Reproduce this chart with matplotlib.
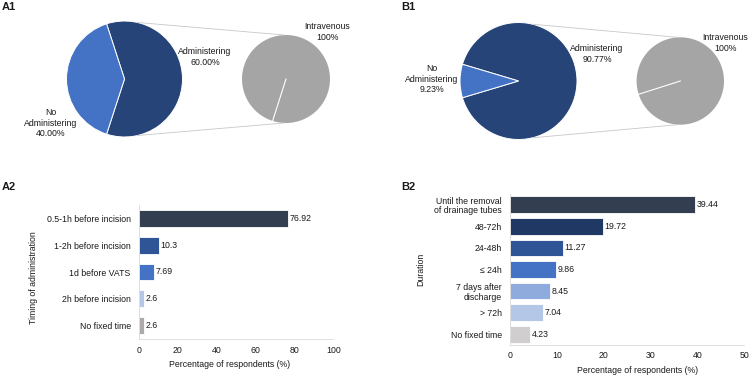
import numpy as np
import matplotlib
matplotlib.use("Agg")
import matplotlib.pyplot as plt

plt.rcParams['font.family'] = ['Liberation Sans', 'DejaVu Sans']

# ---------------- data ----------------
pieA_labels = ["Administering", "No\nAdministering"]
pieA_values = [60.00, 40.00]
pieB_labels = ["Administering", "No\nAdministering"]
pieB_values = [90.77, 9.23]
sub_label = "Intravenous"
sub_value = [100]

a2_categories = ["0.5-1h before incision", "1-2h before incision", "1d before VATS",
                 "2h before incision", "No fixed time"]
a2_values = [76.92, 10.3, 7.69, 2.6, 2.6]
a2_text = ["76.92", "10.3", "7.69", "2.6", "2.6"]

b2_categories = ["Until the removal\nof drainage tubes", "48-72h", "24-48h", "\u2264 24h",
                 "7 days after\ndischarge", "> 72h", "No fixed time"]
b2_values = [39.44, 19.72, 11.27, 9.86, 8.45, 7.04, 4.23]
b2_text = ["39.44", "19.72", "11.27", "9.86", "8.45", "7.04", "4.23"]

# ---------------- styles ----------------
NAVY = "#264478"
BLUE = "#4472C4"
GRAY = "#A5A5A5"
TXT = "#1a1a1a"
FS = 6.3

a2_colors = ["#333F50", "#2F5597", "#4472C4", "#B4C7E7", "#AEAAAA"]
b2_colors = ["#333F50", "#1F3864", "#2F5597", "#4472C4", "#8FAADC", "#B4C7E7", "#D0CECE"]

W, H = 750, 375
fig = plt.figure(figsize=(7.5, 3.75), dpi=100)

# full-figure axes in pixel coords (y up)
ax0 = fig.add_axes([0, 0, 1, 1])


def py(y):
    return H - y


def pie_group(big_c, big_r, small_c, small_r, values, start, sub_start,
              ang_big, ang_small):
    ax0.pie(values, colors=[NAVY, BLUE], startangle=start, counterclock=True,
            center=(big_c[0], py(big_c[1])), radius=big_r,
            wedgeprops=dict(edgecolor="white", linewidth=0.7))
    ax0.pie(sub_value, colors=[GRAY], startangle=sub_start,
            center=(small_c[0], py(small_c[1])), radius=small_r,
            wedgeprops=dict(edgecolor="white", linewidth=0.0))
    # radial divider of the single slice
    t = np.deg2rad(sub_start)
    ax0.plot([small_c[0], small_c[0] + small_r * np.cos(t)],
             [py(small_c[1]), py(small_c[1]) + small_r * np.sin(t)],
             color="white", lw=0.8, zorder=5)
    # connector lines
    for sgn in (1, -1):
        tb = np.deg2rad(sgn * ang_big)
        ts = np.deg2rad(sgn * ang_small)
        ax0.plot([big_c[0] + big_r * np.cos(tb), small_c[0] + small_r * np.cos(ts)],
                 [py(big_c[1]) + big_r * np.sin(tb), py(small_c[1]) + small_r * np.sin(ts)],
                 color="#c8c8c8", lw=0.6, zorder=1)


# A1
pie_group((124.5, 79), 58, (286, 79), 44, pieA_values, 252, 252.3, 77, 92)
# B1
pie_group((518.5, 81), 58.5, (680.3, 81), 43.7, pieB_values, 180 + pieB_values[1] * 3.6 / 2,
          197.7, 76, 93)

ax0.set_xlim(0, W)
ax0.set_ylim(0, H)
ax0.set_aspect("auto")
ax0.axis("off")

# pie labels
ax0.text(205, py(57), f"{pieA_labels[0]}\n{pieA_values[0]:.2f}%", ha="center", va="center",
         fontsize=FS, color=TXT, linespacing=1.15)
ax0.text(51, py(123), f"{pieA_labels[1]}\n{pieA_values[1]:.2f}%", ha="center", va="center",
         fontsize=FS, color=TXT, linespacing=1.15)
ax0.text(327, py(32), f"{sub_label}\n{sub_value[0]}%", ha="center", va="center",
         fontsize=FS, color=TXT, linespacing=1.15)
ax0.text(597, py(54), f"{pieB_labels[0]}\n{pieB_values[0]:.2f}%", ha="center", va="center",
         fontsize=FS, color=TXT, linespacing=1.15)
ax0.text(432, py(79), f"{pieB_labels[1]}\n{pieB_values[1]:.2f}%", ha="center", va="center",
         fontsize=FS, color=TXT, linespacing=1.15)
ax0.text(725, py(43), f"{sub_label}\n{sub_value[0]}%", ha="center", va="center",
         fontsize=FS, color=TXT, linespacing=1.15)

# panel labels
for lab, x, y in [("A1", 2, 7), ("A2", 2, 187), ("B1", 401, 7), ("B2", 401, 187)]:
    ax0.text(x, py(y), lab, ha="left", va="center", fontsize=8, fontweight="bold", color=TXT)


def bar_panel(rect_px, cats, vals, txts, colors, height, xmax, xticks, ylabel,
              ylab_pos, xlab_pos, xpad):
    l, t, r, b = rect_px
    ax = fig.add_axes([l / W, (H - b) / H, (r - l) / W, (b - t) / H])
    y = np.arange(len(cats))
    ax.barh(y, vals, height=height, color=colors, edgecolor="white", linewidth=0.6)
    for yi, v, s in zip(y, vals, txts):
        ax.text(v + xmax * 0.007, yi, s, ha="left", va="center", fontsize=FS, color=TXT)
    ax.set_ylim(len(cats) - 0.5, -0.5)
    ax.set_xlim(0, xmax)
    ax.set_xticks(xticks)
    ax.set_yticks(y)
    ax.set_yticklabels(cats, fontsize=FS, color=TXT, linespacing=1.1)
    ax.tick_params(axis="y", length=0, pad=6)
    ax.tick_params(axis="x", length=0, pad=xpad, labelsize=FS, labelcolor=TXT)
    for s in ("top", "right"):
        ax.spines[s].set_visible(False)
    for s in ("left", "bottom"):
        ax.spines[s].set_color("#d9d9d9")
        ax.spines[s].set_linewidth(0.6)
    ax.set_xlabel("Percentage of respondents (%)", fontsize=FS, color=TXT)
    ax.set_ylabel(ylabel, fontsize=FS, color=TXT)
    ax.xaxis.set_label_coords(*xlab_pos)
    ax.yaxis.set_label_coords(*ylab_pos)
    return ax


bar_panel((139, 205, 333.3, 339), a2_categories, a2_values, a2_text, a2_colors, 0.63,
          100, [0, 20, 40, 60, 80, 100], "Timing of administration",
          (-0.52, 0.46), (0.467, -0.155), 5)
bar_panel((510.3, 194, 744.3, 345), b2_categories, b2_values, b2_text, b2_colors, 0.78,
          50, [0, 10, 20, 30, 40, 50], "Duration",
          (-0.365, 0.5), (0.545, -0.14), 4.5)

fig.savefig("out.png", dpi=100)
